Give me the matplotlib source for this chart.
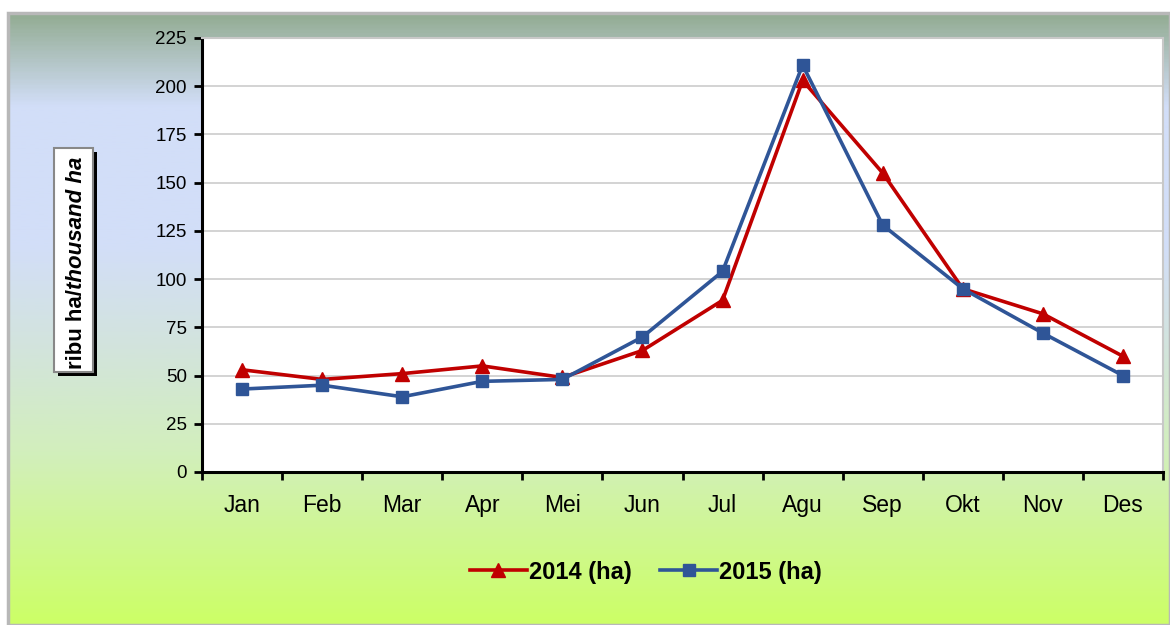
import numpy as np
import matplotlib
matplotlib.use("Agg")
import matplotlib.pyplot as plt
from matplotlib.colors import LinearSegmentedColormap, to_rgb
from matplotlib.lines import Line2D
from matplotlib.patches import Rectangle

months = ["Jan", "Feb", "Mar", "Apr", "Mei", "Jun", "Jul", "Agu", "Sep", "Okt", "Nov", "Des"]
v2014 = [53, 48, 51, 55, 49, 63, 89, 203, 155, 95, 82, 60]
v2015 = [43, 45, 39, 47, 48, 70, 104, 211, 128, 95, 72, 50]
yticks = [0, 25, 50, 75, 100, 125, 150, 175, 200, 225]
series_labels = ["2014 (ha)", "2015 (ha)"]

plt.rcParams['font.family'] = ['Liberation Sans', 'DejaVu Sans']

W, H = 1170, 625
fig = plt.figure(figsize=(W / 100, H / 100), dpi=100)
fig.patch.set_facecolor("white")

# gradient background
bx0, by0 = 8 / W, 0.0
bw, bh = 1.0 - bx0, 1.0 - 13 / H
bg = fig.add_axes([bx0, by0, bw, bh])
stops = [(0.0, "#93ac93"), (0.15, "#d2def8"), (0.38, "#d2def8"),
         (0.55, "#d2e4dc"), (0.72, "#d2efbc"), (1.0, "#ccff66")]
cmap = LinearSegmentedColormap.from_list("bgc", [(p, to_rgb(c)) for p, c in stops])
grad = np.linspace(0, 1, 400).reshape(-1, 1)
bg.imshow(grad, aspect="auto", cmap=cmap, extent=[0, 1, 0, 1], origin="upper")
bg.set_xlim(0, 1); bg.set_ylim(0, 1)
bg.axis("off")
fig.patches.append(Rectangle((bx0, 0), bw, bh, transform=fig.transFigure,
                             fill=False, edgecolor="#b8b8b8", linewidth=2.5, zorder=1))

# main axes
L, R, T, B = 202, 1163, 38, 472
ax = fig.add_axes([L / W, 1 - B / H, (R - L) / W, (B - T) / H])
ax.set_facecolor("white")
x = np.arange(len(months))
ax.plot(x, v2014, color="#c00000", linewidth=2.6, marker="^", markersize=10, zorder=3)
ax.plot(x, v2015, color="#2f5597", linewidth=2.6, marker="s", markersize=9, zorder=4)

ax.set_xlim(-0.5, len(months) - 0.5)
ax.set_ylim(0, 225)
ax.set_yticks(yticks)
ax.set_yticklabels([str(t) for t in yticks], fontsize=13.5)
ax.yaxis.grid(True, color="#cccccc", linewidth=1.2)
ax.set_axisbelow(True)
ax.set_xticks(x)
ax.set_xticklabels(months, fontsize=16.5)
ax.set_xticks(np.arange(-0.5, len(months), 1), minor=True)
ax.tick_params(axis="x", which="major", length=0, pad=16)
ax.tick_params(axis="x", which="minor", length=6, width=2, direction="out")
ax.tick_params(axis="y", length=6, width=2, direction="out", pad=5)
for s in ["left", "bottom"]:
    ax.spines[s].set_linewidth(2.2)
    ax.spines[s].set_color("black")
for s in ["top", "right"]:
    ax.spines[s].set_color("#c8c8c8")
    ax.spines[s].set_linewidth(1.5)

# y label box
fig.patches.append(Rectangle((58 / W, 1 - 376 / H), 39 / W, 224 / H, transform=fig.transFigure,
                             facecolor="black", edgecolor="none", zorder=0.5))
fig.patches.append(Rectangle((54 / W, 1 - 372 / H), 39 / W, 224 / H, transform=fig.transFigure,
                             facecolor="white", edgecolor="#888888", linewidth=1.5, zorder=0.6))
fs_lab = 16
t1 = fig.text(76 / W, 1 - 369 / H, "ribu ha/", rotation=90, ha="center", va="bottom",
              fontsize=fs_lab, fontweight="bold")
fig.canvas.draw()
ext = t1.get_window_extent(renderer=fig.canvas.get_renderer())
fig.text(76 / W, ext.y1 / H, "thousand ha", rotation=90, ha="center", va="bottom",
         fontsize=fs_lab, fontweight="bold", fontstyle="italic")

# legend
handles = [Line2D([], [], color="#c00000", linewidth=2.6, marker="^", markersize=10),
           Line2D([], [], color="#2f5597", linewidth=2.6, marker="s", markersize=9)]
fig.legend(handles, series_labels, loc="center", bbox_to_anchor=(646 / W, 1 - 572 / H),
           ncol=2, frameon=False, prop={"weight": "bold", "size": 17},
           handlelength=2.4, handletextpad=0.1, columnspacing=1.2)

fig.savefig("out.png", dpi=100)
